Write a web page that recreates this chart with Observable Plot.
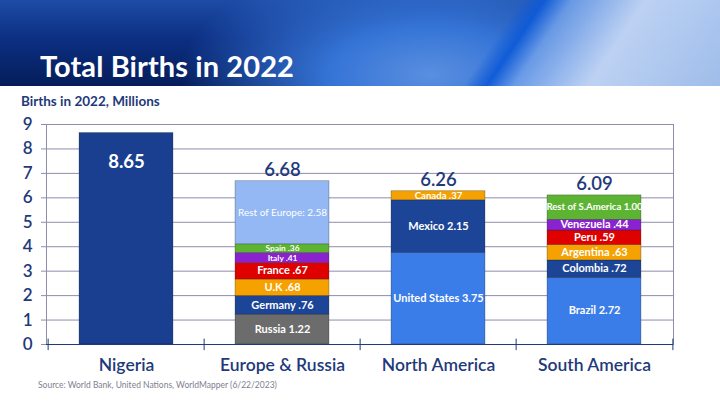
<!DOCTYPE html>
<html><head><meta charset="utf-8">
<script src="https://cdn.jsdelivr.net/npm/d3@7"></script>
<script src="https://cdn.jsdelivr.net/npm/@observablehq/plot@0.6"></script>
<style>
html,body{margin:0;padding:0;background:#fff;}
#page{position:relative;width:720px;height:405px;overflow:hidden;font-family:Lato,"Open Sans",sans-serif;}
#header{position:absolute;left:0;top:0;width:720px;height:86px;
background:
 linear-gradient(124deg, rgba(0,0,0,0) 0%, rgba(0,0,0,0) 67%, rgba(14,90,215,0.95) 70%, rgba(110,158,232,0.92) 73.5%, rgba(195,215,246,0.96) 83%, rgba(165,196,240,0.96) 100%),
 radial-gradient(ellipse 250px 120px at 430px 75px, #5a8fe0 0%, #3574d6 40%, rgba(25,80,190,0) 100%),
 linear-gradient(180deg, #1d4ca6 0%, #0c2f82 45%, #051d5a 100%);}
#title{position:absolute;left:40px;top:48px;color:#fff;font-weight:bold;font-size:29px;letter-spacing:0.1px;}
#subtitle{position:absolute;left:21px;top:93px;color:#1f3a7a;font-weight:bold;font-size:13.5px;}
#chart{position:absolute;left:0;top:112px;}
#caption{position:absolute;left:38px;top:380px;color:#80808f;font-size:8.5px;}
</style></head>
<body><div id="page">
<div id="header"><div id="title">Total Births in 2022</div></div>
<div id="subtitle">Births in 2022, Millions</div>
<div id="chart"></div>
<div id="caption">Source: World Bank, United Nations, WorldMapper (6/22/2023)</div>
</div>
<script>
const regions = ["Nigeria", "Europe & Russia", "North America", "South America"];
const totalLabels = ["8.65", "6.68", "6.26", "6.09"];
const yTicks = [0, 1, 2, 3, 4, 5, 6, 7, 8, 9];

const segRegions = ["Nigeria",
  "Europe & Russia", "Europe & Russia", "Europe & Russia", "Europe & Russia", "Europe & Russia", "Europe & Russia", "Europe & Russia",
  "North America", "North America", "North America",
  "South America", "South America", "South America", "South America", "South America", "South America"];
const segCountries = ["Nigeria",
  "Russia", "Germany", "U.K", "France", "Italy", "Spain", "Rest of Europe",
  "United States", "Mexico", "Canada",
  "Brazil", "Colombia", "Argentina", "Peru", "Venezuela", "Rest of S.America"];
const segValues = [8.65,
  1.22, 0.76, 0.68, 0.67, 0.41, 0.36, 2.58,
  3.75, 2.15, 0.37,
  2.72, 0.72, 0.63, 0.59, 0.44, 1.00];
const segLabels = ["",
  "Russia 1.22", "Germany .76", "U.K .68", "France .67", "Italy .41", "Spain .36", "Rest of Europe: 2.58",
  "United States 3.75", "Mexico 2.15", "Canada .37",
  "Brazil 2.72", "Colombia .72", "Argentina .63", "Peru .59", "Venezuela .44", "Rest of S.America 1.00"];

// styles (kept apart from data)
const palette = {
  "Nigeria": "#1a3f91", "Russia": "#6c6c6c", "Germany": "#1d4597", "U.K": "#f5a200", "France": "#df0000",
  "Italy": "#8a22cf", "Spain": "#5cb432", "Rest of Europe": "#94b8f4",
  "United States": "#3b7de8", "Mexico": "#1d4597", "Canada": "#f5a200",
  "Brazil": "#3b7de8", "Colombia": "#1d4597", "Argentina": "#f5a200", "Peru": "#df0000",
  "Venezuela": "#8a22cf", "Rest of S.America": "#5cb432"
};
const navy = "#1f3a7a";
const gridColor = "#8d8dae";
const lightLabel = "Rest of Europe";

const segments = segValues.map((v, i) => ({region: segRegions[i], country: segCountries[i], value: v, label: segLabels[i]}));
const sums = d3.rollup(segments, g => d3.sum(g, d => d.value), d => d.region);
const totals = regions.map((r, i) => ({region: r, sum: sums.get(r), label: totalLabels[i]}));

const W = 720, H = 268, mL = 46, mR = 47, mT = 12, mB = 36;
const step = (W - mL - mR) / regions.length;
const inset = step * 0.198;

const labelSize = d => d.value < 0.42 ? (d.label.length > 9 ? 9.6 : 8.4) : (d.label.length > 18 ? 9.6 : 11);

const plot = Plot.plot({
  width: W, height: H,
  marginLeft: mL, marginRight: mR, marginTop: mT, marginBottom: mB,
  style: {fontFamily: "Lato, sans-serif", background: "transparent", overflow: "visible"},
  x: {domain: regions, padding: 0, label: null},
  y: {domain: [0, 9], label: null},
  color: {domain: segCountries, range: segCountries.map(c => palette[c])},
  marks: [
    Plot.gridY(yTicks, {stroke: gridColor, strokeOpacity: 1, strokeWidth: 1}),
    Plot.frame({stroke: gridColor, strokeWidth: 1}),
    Plot.barY(segments, Plot.stackY({x: "region", y: "value", fill: "country", order: null,
      insetLeft: inset, insetRight: inset, stroke: "rgba(0,0,0,0.35)", strokeWidth: 0.7})),
    Plot.text(segments, Plot.stackY({x: "region", y: "value", order: null,
      text: d => (d.label && d.country !== lightLabel) ? d.label : "",
      fill: "white", fontWeight: "bold", fontSize: labelSize, lineHeight: 0.9})),
    Plot.text(segments, Plot.stackY({x: "region", y: "value", order: null,
      text: d => d.country === lightLabel ? d.label : "",
      fill: "white", fontWeight: "normal", fontSize: 10})),
    Plot.text(totals.filter(d => d.region !== regions[0]), {x: "region", y: "sum", text: "label", dy: -11,
      fill: navy, fontSize: 18.5, fontWeight: 600}),
    Plot.text(totals.filter(d => d.region === regions[0]), {x: "region", y: "sum", text: "label", dy: 29,
      fill: "white", fontSize: 18.5, fontWeight: "bold"}),
    Plot.ruleY([0], {stroke: navy, strokeWidth: 1.2}),
    Plot.ruleX(regions, {x: d => d, dx: -step / 2, y1: -0.25, y2: 0.22, stroke: navy, strokeWidth: 1}),
    Plot.ruleX([regions[regions.length - 1]], {x: d => d, dx: step / 2, y1: -0.25, y2: 0.22, stroke: navy, strokeWidth: 1}),
    Plot.axisY(yTicks, {tickSize: 5, tickPadding: 9, fontSize: 17, fill: navy, fontWeight: 600, stroke: gridColor, label: null, tickFormat: d => String(d)}),
    Plot.axisX({tickSize: 0, tickPadding: 14, fontSize: 17.5, fill: navy, fontWeight: 600, label: null})
  ]
});
document.getElementById("chart").appendChild(plot);
</script>
</body></html>
